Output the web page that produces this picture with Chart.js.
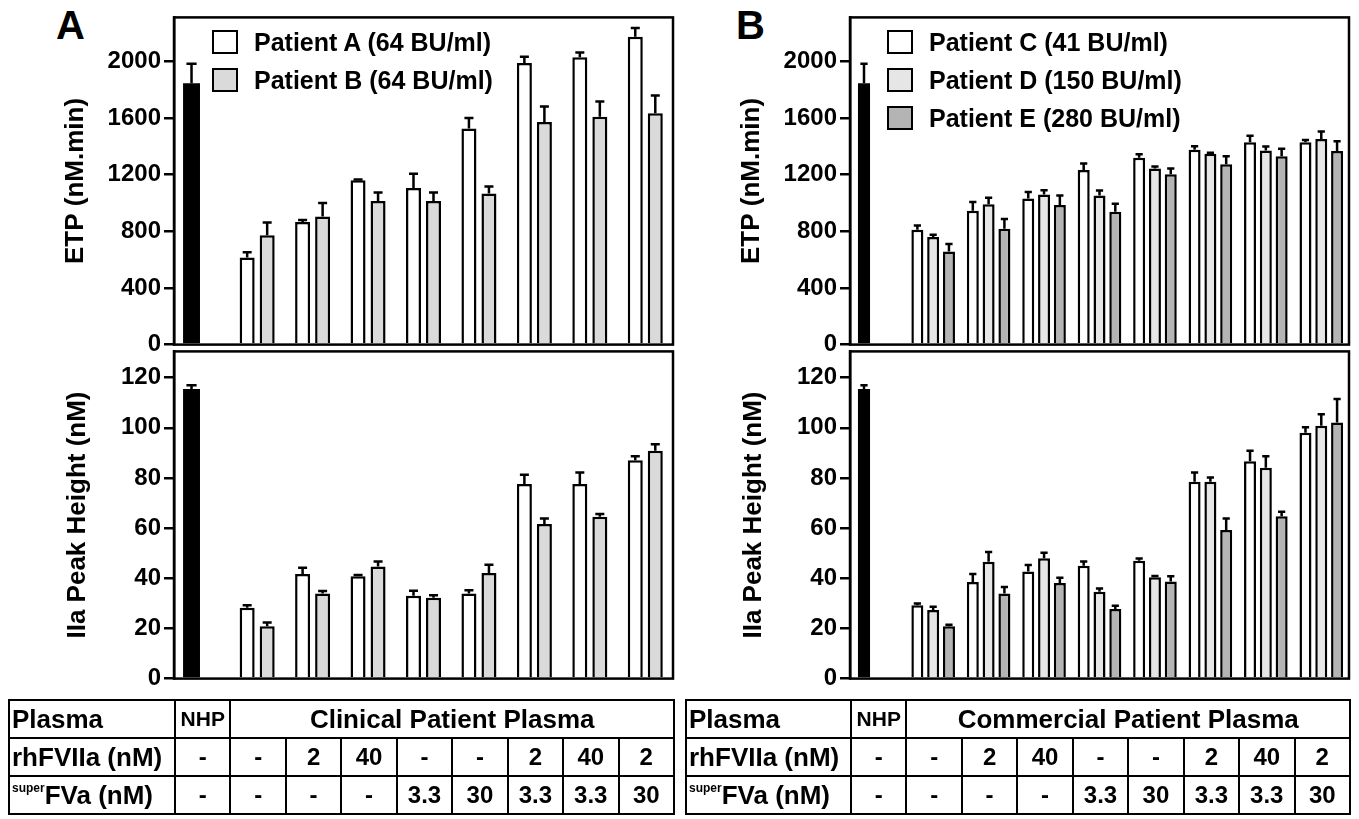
<!DOCTYPE html>
<html>
<head>
<meta charset="utf-8">
<script src="https://cdn.jsdelivr.net/npm/chart.js@4.4.0/dist/chart.umd.min.js"></script>
<style>
  body { margin: 0; background: #fff; width: 1359px; height: 819px; position: relative; overflow: hidden;
         font-family: "Liberation Sans", Arial, sans-serif; font-weight: bold; color: #000; }
  canvas { position: absolute; }
  .letter { position: absolute; font-size: 40px; line-height: 1; }
  .legend { position: absolute; font-size: 25px; }
  .legend .row { height: 38px; display: flex; align-items: center; white-space: nowrap; }
  .legend .sw { width: 22px; height: 20px; border: 2.5px solid #000; margin-right: 16px; }
  table { position: absolute; border-collapse: collapse; table-layout: fixed; }
  td { border: 2px solid #000; height: 36px; padding: 0; text-align: center; font-size: 24px; white-space: nowrap; overflow: hidden; }
  td.head { text-align: left; padding-left: 2px; font-size: 26px; }
  td.nhp { font-size: 21px; }
  td.span { font-size: 26px; }
  sup { font-size: 12px; vertical-align: 12px; }
</style>
</head>
<body>

<div class="letter" style="left:56px; top:5px;">A</div>
<div class="letter" style="left:736px; top:5px;">B</div>

<canvas id="etpA" width="680" height="362" style="left:0; top:0;"></canvas>
<canvas id="iiaA" width="680" height="362" style="left:0; top:334px;"></canvas>
<canvas id="etpB" width="680" height="362" style="left:676px; top:0;"></canvas>
<canvas id="iiaB" width="680" height="362" style="left:676px; top:334px;"></canvas>

<div class="legend" id="legendA" style="left:212px; top:23px;"></div>
<div class="legend" id="legendB" style="left:887px; top:23px;"></div>

<table id="tableA" style="left:8px; top:699px;"></table>
<table id="tableB" style="left:685px; top:699px;"></table>

<script>
// conditions (one column per bar group)
const groups = ['NHP', '1', '2', '3', '4', '5', '6', '7', '8'];
const rhFVIIa = ['-', '-', '2', '40', '-', '-', '2', '40', '2'];
const superFVa = ['-', '-', '-', '-', '3.3', '30', '3.3', '3.3', '30'];

// y tick labels
const etpTicks = [0, 400, 800, 1200, 1600, 2000];
const iiaTicks = [0, 20, 40, 60, 80, 100, 120];

// normal human plasma
const nhpETP = 1845, nhpETPsd = 137;
const nhpIIa = 115.5, nhpIIasd = 1.5;

// panel A: clinical patient plasma
const patientA_ETP = [615, 865, 1160, 1106, 1525, 1988, 2028, 2173];
const patientA_ETPsd = [37, 15, 5, 100, 75, 45, 35, 62];
const patientB_ETP = [772, 905, 1014, 1014, 1067, 1571, 1608, 1634];
const patientB_ETPsd = [90, 95, 60, 60, 50, 110, 108, 124];
const patientA_IIa = [28.3, 41.7, 40.8, 33, 33.9, 77.6, 77.6, 87.1];
const patientA_IIasd = [1, 2.5, 0.5, 2, 1.3, 3.7, 4.6, 1.6];
const patientB_IIa = [20.9, 33.9, 44.7, 32.2, 42.1, 61.7, 64.6, 90.9];
const patientB_IIasd = [1.5, 1, 2, 1, 3.3, 2.2, 1, 2.6];

// panel B: commercial patient plasma
const patientC_ETP = [811, 945, 1032, 1233, 1320, 1376, 1429, 1429];
const patientC_ETPsd = [30, 62, 46, 46, 23, 25, 46, 16];
const patientD_ETP = [760, 991, 1060, 1053, 1244, 1348, 1371, 1452];
const patientD_ETPsd = [16, 46, 30, 35, 14, 7, 28, 53];
const patientE_ETP = [657, 818, 986, 938, 1203, 1274, 1329, 1366];
const patientE_ETPsd = [53, 69, 67, 57, 41, 55, 53, 69];
const patientC_IIa = [29.3, 38.5, 42.7, 45, 47, 78.5, 86.7, 98.1];
const patientC_IIasd = [0.7, 3.2, 2.6, 1.7, 0.9, 3.7, 4.2, 2.1];
const patientD_IIa = [27.4, 46.6, 48, 34.6, 40.4, 78.5, 84.1, 100.8];
const patientD_IIasd = [1.3, 3.9, 2.2, 1.3, 0.5, 1.7, 4.6, 4.6];
const patientE_IIa = [20.9, 33.9, 38.1, 27.8, 38.7, 59.3, 64.8, 102.1];
const patientE_IIasd = [0.6, 2.6, 2.1, 1.3, 2.1, 4.6, 1.7, 9.4];

const legendA = ['Patient A (64 BU/ml)', 'Patient B (64 BU/ml)'];
const legendB = ['Patient C (41 BU/ml)', 'Patient D (150 BU/ml)', 'Patient E (280 BU/ml)'];
const colorsA = ['#ffffff', '#dadada'];
const colorsB = ['#ffffff', '#e6e6e6', '#b4b4b4'];

const FONT = '"Liberation Sans", Arial, sans-serif';

// error bars drawn on top of each bar, using the y scale
const errorBars = {
  id: 'errorBars',
  afterDatasetsDraw(chart) {
    const ctx = chart.ctx;
    const y = chart.scales.y;
    ctx.save();
    ctx.strokeStyle = '#000';
    ctx.lineWidth = 2.5;
    chart.data.datasets.forEach((ds, d) => {
      if (!ds.sd) return;
      chart.getDatasetMeta(d).data.forEach((bar, i) => {
        const v = ds.data[i];
        if (v == null || ds.sd[i] == null) return;
        const top = y.getPixelForValue(v + ds.sd[i]);
        const cap = bar.width * 0.6;
        ctx.beginPath();
        ctx.moveTo(bar.x, bar.y);
        ctx.lineTo(bar.x, top);
        ctx.moveTo(bar.x - cap / 2, top);
        ctx.lineTo(bar.x + cap / 2, top);
        ctx.stroke();
      });
    });
    ctx.restore();
  }
};

// closed box around the plot area
const frame = {
  id: 'frame',
  afterDraw(chart) {
    const a = chart.chartArea;
    const ctx = chart.ctx;
    ctx.save();
    ctx.strokeStyle = '#000';
    ctx.lineWidth = 2.5;
    ctx.strokeRect(a.left, a.top, a.right - a.left, a.bottom - a.top);
    ctx.restore();
  }
};

function pad(values) {
  return [null].concat(values);
}

function makeChart(id, opts) {
  const nhpData = groups.map((g, i) => i === 0 ? opts.nhp : null);
  const spacer = groups.map((g, i) => i === 0 ? 0 : null);
  const datasets = [
    { data: nhpData, sd: [opts.nhpSd], backgroundColor: '#000', borderColor: '#000', borderWidth: 0,
      categoryPercentage: opts.nhpCat, barPercentage: opts.nhpBar, skipNull: true },
    { data: spacer, backgroundColor: 'rgba(0,0,0,0)', borderWidth: 0,
      categoryPercentage: opts.nhpCat, barPercentage: opts.nhpBar, skipNull: true }
  ];
  opts.series.forEach((s, k) => {
    datasets.push({
      data: pad(s.values), sd: pad(s.sd),
      backgroundColor: opts.colors[k], borderColor: '#000', borderWidth: 2.5,
      categoryPercentage: opts.cat, barPercentage: opts.bar, skipNull: true
    });
  });

  return new Chart(document.getElementById(id), {
    type: 'bar',
    data: { labels: groups, datasets: datasets },
    options: {
      responsive: false,
      animation: false,
      events: [],
      layout: { autoPadding: false, padding: opts.padding },
      plugins: { legend: { display: false }, tooltip: { enabled: false } },
      scales: {
        x: { display: false },
        y: {
          min: 0, max: opts.max,
          afterBuildTicks: (scale) => { scale.ticks = opts.ticks.map(v => ({ value: v })); },
          ticks: { color: '#000', padding: 3, callback: (v) => String(v),
                   font: { family: FONT, size: 24, weight: 'bold' } },
          grid: { drawOnChartArea: false, drawTicks: true, tickLength: 10, color: '#000', lineWidth: 2.5 },
          border: { display: true, color: '#000', width: 2.5 },
          title: { display: true, text: opts.title, color: '#000', padding: { top: opts.titleX, bottom: 0 },
                   font: { family: FONT, size: 26, weight: 'bold' } },
          afterFit: (scale) => { scale.width = 174; }
        }
      }
    },
    plugins: [errorBars, frame]
  });
}

const padTop = { top: 13, bottom: 16, left: 0, right: 7 };
const padBottom = { top: 12, bottom: 17, left: 0, right: 7 };

makeChart('etpA', {
  title: 'ETP (nM.min)', titleX: 60, max: 2310, ticks: etpTicks, padding: padTop,
  nhp: nhpETP, nhpSd: nhpETPsd, nhpCat: 0.736, nhpBar: 0.83, cat: 0.722, bar: 0.75, colors: colorsA,
  series: [{ values: patientA_ETP, sd: patientA_ETPsd }, { values: patientB_ETP, sd: patientB_ETPsd }]
});
makeChart('iiaA', {
  title: 'IIa Peak Height (nM)', titleX: 62, max: 130.5, ticks: iiaTicks, padding: padBottom,
  nhp: nhpIIa, nhpSd: nhpIIasd, nhpCat: 0.736, nhpBar: 0.83, cat: 0.722, bar: 0.75, colors: colorsA,
  series: [{ values: patientA_IIa, sd: patientA_IIasd }, { values: patientB_IIa, sd: patientB_IIasd }]
});
makeChart('etpB', {
  title: 'ETP (nM.min)', titleX: 60, max: 2310, ticks: etpTicks, padding: padTop,
  nhp: nhpETP, nhpSd: nhpETPsd, nhpCat: 0.99, nhpBar: 0.44, cat: 0.855, bar: 0.76, colors: colorsB,
  series: [{ values: patientC_ETP, sd: patientC_ETPsd }, { values: patientD_ETP, sd: patientD_ETPsd },
           { values: patientE_ETP, sd: patientE_ETPsd }]
});
makeChart('iiaB', {
  title: 'IIa Peak Height (nM)', titleX: 62, max: 130.5, ticks: iiaTicks, padding: padBottom,
  nhp: nhpIIa, nhpSd: nhpIIasd, nhpCat: 0.99, nhpBar: 0.44, cat: 0.855, bar: 0.76, colors: colorsB,
  series: [{ values: patientC_IIa, sd: patientC_IIasd }, { values: patientD_IIa, sd: patientD_IIasd },
           { values: patientE_IIa, sd: patientE_IIasd }]
});

function buildLegend(id, labels, colors) {
  const el = document.getElementById(id);
  labels.forEach((t, i) => {
    const row = document.createElement('div');
    row.className = 'row';
    row.innerHTML = '<span class="sw" style="background:' + colors[i] + '"></span>' + t;
    el.appendChild(row);
  });
}
buildLegend('legendA', legendA, colorsA);
buildLegend('legendB', legendB, colorsB);

function buildTable(id, firstWidth, plasmaLabel) {
  const colW = 499 / groups.length;
  let html = '<colgroup><col style="width:' + firstWidth + 'px">';
  groups.forEach(() => { html += '<col style="width:' + colW + 'px">'; });
  html += '</colgroup>';
  html += '<tr><td class="head">Plasma</td><td class="nhp">NHP</td><td class="span" colspan="' +
          (groups.length - 1) + '">' + plasmaLabel + '</td></tr>';
  html += '<tr><td class="head">rhFVIIa (nM)</td>' + rhFVIIa.map(v => '<td>' + v + '</td>').join('') + '</tr>';
  html += '<tr><td class="head"><sup>super</sup>FVa (nM)</td>' + superFVa.map(v => '<td>' + v + '</td>').join('') + '</tr>';
  const t = document.getElementById(id);
  t.innerHTML = html;
  t.style.width = (firstWidth + 499) + 'px';
}
buildTable('tableA', 166, 'Clinical Patient Plasma');
buildTable('tableB', 165, 'Commercial Patient Plasma');
</script>
</body>
</html>
